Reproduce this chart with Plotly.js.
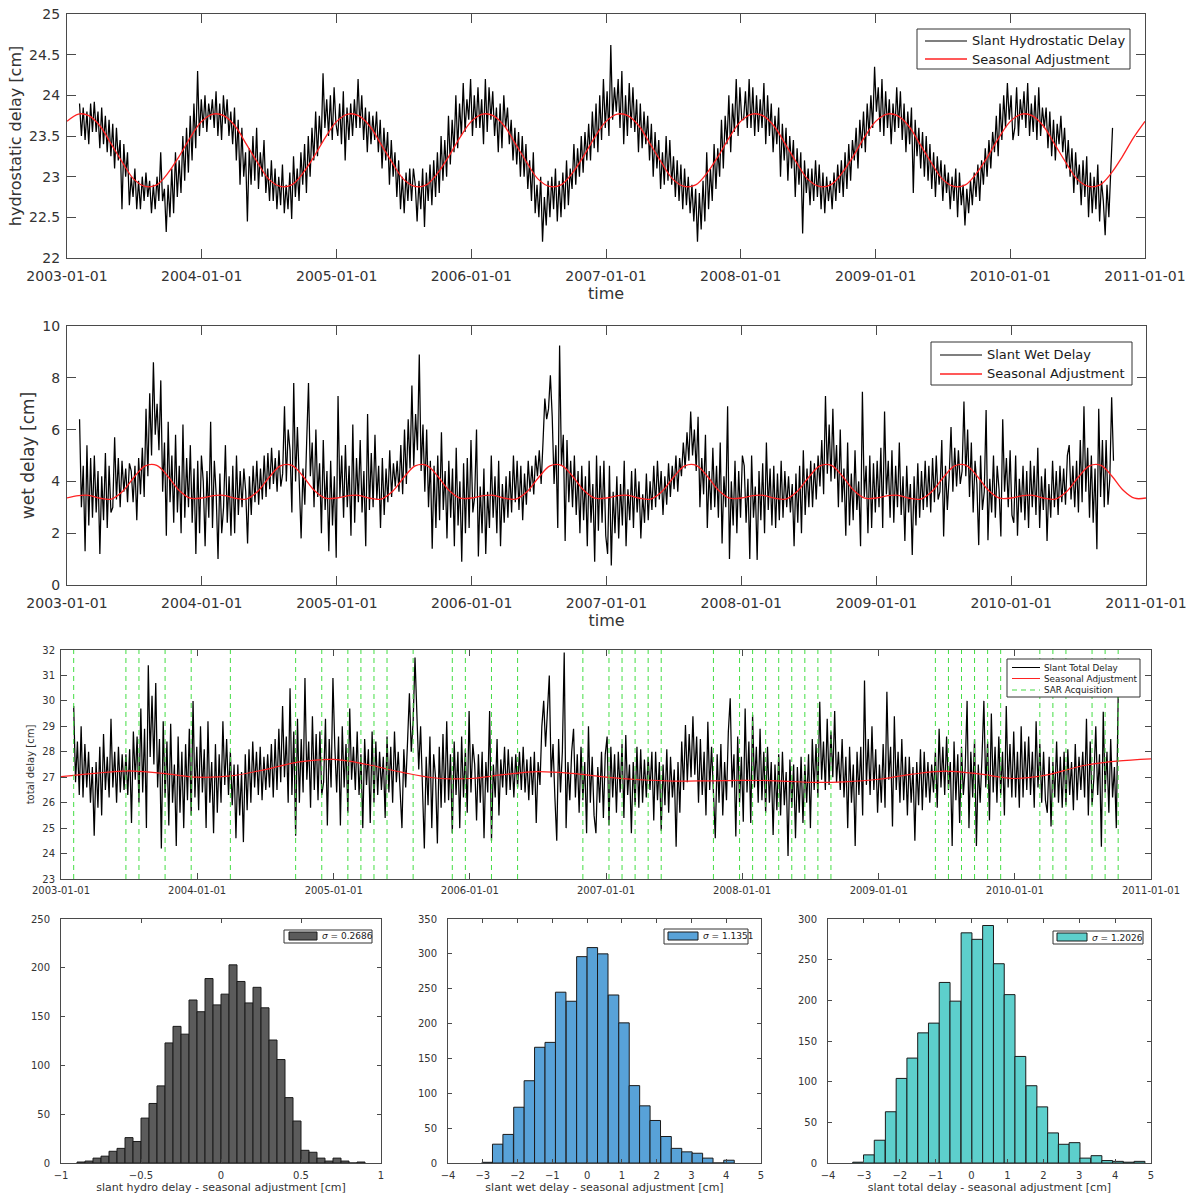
<!DOCTYPE html>
<html>
<head>
<meta charset="utf-8">
<script src="https://cdn.plot.ly/plotly-3.0.1.min.js"></script>
<style>
  html, body { margin: 0; padding: 0; background: #ffffff; }
  #chart { width: 1196px; height: 1195px; }
</style>
</head>
<body>
<div id="chart"></div>
<script>
// ---- slant delay series, one sample every 5 days from 2003-02-04 ----
const seriesStart = '2003-02-04';
const seriesStepDays = 5;

const hydroDelay = [
  // 2003
  23.9, 23.5, 23.85, 23.45, 23.8, 23.4, 23.9, 23.55, 23.92, 23.55, 23.8, 23.35, 23.85, 23.4, 23.75, 23.3,
  23.7, 23.25, 23.65, 23.1, 23.6, 23.2, 23.45, 22.6, 23.4, 23.0, 23.3, 22.65, 23.0, 22.75, 23.1, 22.6,
  22.95, 22.6, 23.0, 22.7, 23.05, 22.75, 22.95, 22.55, 22.9, 22.6, 23.0, 22.7, 23.3, 22.7, 22.85, 22.32,
  22.9, 22.5, 23.1, 22.55, 23.3, 22.75, 23.2, 22.8, 23.5, 22.95, 23.6, 23.05, 23.75, 23.2, 23.9, 23.35,
  24.3, 23.5, 23.95, 23.6,
  // 2004
  24.0, 23.55, 23.9, 23.7, 23.95, 23.6, 24.05, 23.5, 23.9, 23.45, 24.0, 23.65, 23.95, 23.5, 23.8, 23.4,
  23.85, 23.2, 23.7, 22.9, 23.6, 23.0, 23.3, 22.45, 23.35, 22.9, 23.5, 22.95, 23.6, 22.85, 23.3, 23.0,
  23.45, 22.8, 23.1, 22.7, 23.2, 22.7, 23.1, 22.6, 23.0, 22.65, 23.15, 22.55, 22.9, 22.6, 23.05, 22.48,
  23.25, 22.75, 23.1, 22.7, 23.3, 22.9, 23.4, 22.8, 23.5, 23.0, 23.6, 23.2, 23.8, 23.25, 23.75, 23.4,
  24.27, 23.6, 23.95, 23.5, 24.0, 23.45, 24.1, 23.65,
  // 2005
  23.5, 23.9, 23.4, 24.05, 23.2, 23.85, 23.45, 23.9, 23.5, 23.95, 23.6, 24.2, 23.6, 24.0, 23.45, 23.85,
  23.3, 23.8, 23.4, 23.75, 23.45, 23.8, 23.3, 23.7, 23.1, 23.6, 23.2, 23.55, 22.9, 23.45, 23.0, 23.3,
  22.75, 23.2, 22.6, 23.0, 22.55, 23.05, 22.7, 23.1, 22.7, 23.1, 22.9, 22.45, 22.95, 22.6, 23.1, 22.38,
  23.05, 22.7, 23.15, 22.65, 23.2, 22.75, 23.3, 22.8, 23.5, 22.95, 23.45, 23.0, 23.75, 23.15, 23.7, 23.3,
  24.0, 23.35, 23.9, 23.5, 24.15, 23.55, 23.95, 23.7, 24.2, 23.5, 24.0, 23.6,
  // 2006
  24.1, 23.6, 23.95, 23.4, 24.2, 23.55, 24.1, 23.7, 24.05, 23.5, 23.85, 23.3, 23.9, 23.35, 24.0, 23.6,
  23.85, 23.4, 23.7, 23.2, 23.6, 23.15, 23.55, 23.0, 23.5, 23.0, 23.4, 22.85, 23.2, 22.7, 23.3, 22.55,
  22.9, 22.5, 23.0, 22.2, 22.75, 22.4, 22.95, 22.5, 23.0, 22.6, 23.1, 22.45, 22.95, 22.5, 23.05, 22.6,
  23.2, 22.65, 23.1, 22.85, 23.4, 22.9, 23.35, 23.0, 23.5, 23.05, 23.55, 23.2, 23.65, 23.2, 23.8, 23.35,
  23.9, 23.3, 24.0, 23.45, 24.2, 23.6, 24.05, 23.5,
  // 2007
  24.62, 23.7, 24.1, 23.8, 24.2, 23.6, 24.3, 23.4, 24.0, 23.5, 24.15, 23.6, 24.1, 23.55, 23.95, 23.3,
  23.9, 23.35, 23.8, 23.4, 23.75, 23.2, 23.65, 23.0, 23.55, 23.1, 23.45, 22.85, 23.3, 22.9, 23.5, 22.95,
  23.45, 22.9, 23.25, 22.75, 23.2, 22.7, 23.15, 22.6, 23.1, 22.65, 23.0, 22.55, 22.9, 22.45, 22.85, 22.2,
  22.8, 22.35, 22.95, 22.45, 23.3, 22.6, 23.1, 22.7, 23.4, 22.85, 23.35, 23.0, 23.7, 23.1, 23.75, 23.4,
  24.0, 23.3, 23.9, 23.55, 24.2, 23.5, 24.1, 23.7,
  // 2008
  23.7, 24.05, 23.6, 24.2, 23.6, 24.1, 23.5, 24.0, 23.55, 23.95, 23.6, 24.15, 23.4, 24.0, 23.5, 23.9,
  23.3, 23.75, 23.4, 23.85, 23.0, 23.65, 23.2, 23.6, 22.95, 23.5, 23.1, 23.45, 22.75, 23.35, 22.9, 23.3,
  22.3, 23.2, 22.8, 23.1, 22.65, 23.1, 22.7, 23.2, 22.75, 23.15, 22.6, 23.05, 22.55, 23.0, 22.7, 22.95,
  22.6, 23.05, 22.7, 23.15, 22.8, 23.2, 22.75, 23.3, 22.85, 23.4, 22.95, 23.45, 23.2, 23.6, 23.1, 23.7,
  23.35, 23.8, 23.3, 23.9, 23.5, 24.0, 23.6, 24.35,
  // 2009
  23.8, 24.1, 23.55, 24.2, 23.5, 24.05, 23.6, 23.95, 23.4, 23.9, 23.55, 24.1, 23.6, 24.05, 23.45, 23.9,
  23.3, 23.8, 23.4, 23.85, 22.8, 23.7, 23.25, 23.6, 23.1, 23.55, 23.0, 23.5, 22.95, 23.4, 22.85, 23.3,
  22.75, 23.25, 22.9, 23.2, 22.7, 23.15, 22.8, 23.05, 22.6, 23.0, 22.7, 23.1, 22.5, 23.05, 22.65, 22.9,
  22.4, 22.85, 22.55, 22.95, 22.65, 23.05, 22.75, 23.15, 22.7, 23.2, 22.9, 23.35, 23.0, 23.45, 23.1, 23.55,
  23.3, 23.75, 23.25, 23.9, 23.45, 24.0, 23.6, 24.15, 23.7, 24.0, 23.45, 23.6,
  // 2010
  24.1, 23.5, 23.95, 23.7, 24.05, 23.6, 24.15, 23.5, 23.9, 23.55, 24.0, 23.45, 24.1, 23.5, 23.85, 23.6,
  23.85, 23.35, 23.8, 23.25, 23.7, 23.2, 23.65, 23.4, 23.75, 23.3, 23.6, 23.1, 23.45, 23.0, 23.35, 22.8,
  23.3, 22.9, 23.15, 22.65, 23.2, 22.75, 23.25, 22.5, 23.05, 22.55, 23.0, 22.6, 23.15, 22.45, 22.95, 22.7,
  22.28, 22.9, 22.5, 23.1, 23.6
];

const wetDelay = [
  // 2003
  6.4, 3.0, 4.6, 1.3, 5.4, 2.3, 4.9, 2.6, 5.0, 2.8, 4.4, 1.2, 4.2, 2.5, 5.1, 2.2, 4.6, 2.8, 3.0, 5.7,
  3.3, 4.9, 3.0, 4.8, 3.6, 4.5, 3.2, 4.7, 4.4, 3.2, 4.6, 2.5, 4.9, 3.5, 5.3, 3.4, 6.8, 4.2, 7.4, 5.0,
  8.6, 5.8, 7.0, 5.2, 7.9, 3.6, 5.5, 1.9, 6.3, 3.2, 5.0, 2.4, 5.8, 2.8, 4.6, 2.0, 6.2, 2.6, 4.9, 3.0,
  5.4, 2.4, 4.5, 1.2, 4.8, 2.0, 5.0, 4.0,
  // 2004
  1.5, 4.4, 2.6, 6.3, 2.2, 4.8, 3.5, 1.0, 4.3, 2.0, 3.0, 5.4, 2.4, 4.2, 1.9, 4.6, 2.0, 5.0, 2.7, 4.4,
  3.0, 4.5, 3.6, 1.6, 4.2, 2.7, 4.6, 3.2, 4.8, 3.1, 4.5, 3.3, 5.0, 3.4, 5.1, 3.7, 5.3, 3.9, 4.9, 3.6,
  5.2, 3.8, 4.3, 6.9, 4.0, 6.0, 5.2, 2.8, 7.8, 4.0, 6.1, 3.5, 1.8, 4.5, 3.1, 5.5, 7.8, 4.2, 5.5, 3.0,
  6.0, 3.4, 4.7, 2.0, 5.6, 2.9, 4.4, 1.3, 4.8, 2.3, 4.2, 1.05,
  // 2005
  7.3, 3.4, 5.0, 2.6, 5.4, 3.0, 4.6, 1.9, 6.2, 2.4, 4.9, 3.2, 5.6, 2.8, 4.4, 1.5, 6.6, 2.9, 5.1, 3.0,
  5.8, 3.3, 4.6, 2.2, 4.9, 2.7, 4.5, 3.2, 5.2, 3.4, 4.7, 3.8, 4.8, 3.6, 5.4, 3.5, 6.0, 3.9, 6.4, 4.5,
  7.7, 4.6, 6.6, 5.2, 8.9, 4.4, 6.2, 3.6, 6.0, 3.0, 4.8, 1.4, 4.6, 2.2, 5.0, 2.5, 5.9, 2.9, 4.4, 1.8,
  4.8, 2.6, 4.5, 1.5, 5.3, 2.3, 4.0, 0.9, 4.7, 2.0, 4.9, 2.2, 5.6, 2.8, 3.4, 6.0,
  // 2006
  1.1, 3.8, 2.0, 4.5, 1.2, 3.6, 2.2, 5.0, 2.6, 4.2, 2.0, 4.8, 1.5, 3.9, 2.4, 4.2, 2.6, 4.4, 2.8, 5.0,
  3.2, 4.8, 2.9, 4.6, 2.5, 4.3, 3.1, 4.8, 3.6, 4.6, 3.5, 5.0, 4.2, 5.2, 3.9, 5.5, 7.2, 6.4, 6.8, 8.1,
  6.5, 3.9, 5.4, 2.2, 9.25, 4.6, 5.8, 1.7, 5.6, 3.2, 4.8, 3.0, 5.0, 2.7, 4.4, 2.0, 4.6, 2.5, 4.2, 1.5,
  4.8, 2.4, 3.9, 0.9, 5.0, 2.1, 4.6, 2.4, 4.8, 1.9, 1.2, 4.6,
  // 2007
  0.75, 3.6, 2.0, 4.2, 1.8, 3.9, 2.3, 4.8, 1.5, 3.7, 2.5, 4.4, 2.2, 4.5, 2.8, 4.0, 1.8, 3.5, 2.4, 4.3,
  2.5, 4.0, 2.9, 4.6, 3.0, 4.8, 3.3, 4.4, 2.7, 4.2, 3.1, 4.7, 3.4, 4.6, 3.7, 5.0, 3.6, 4.9, 4.2, 5.5,
  4.5, 5.9, 4.8, 6.7, 5.0, 6.0, 4.4, 6.5, 3.0, 4.9, 3.5, 5.8, 2.2, 4.4, 2.9, 5.3, 3.0, 4.6, 2.6, 5.5,
  1.6, 4.2, 3.0, 6.9, 1.0, 4.0, 2.3, 4.8, 2.0, 4.4, 2.6, 5.0,
  // 2008
  4.6, 2.4, 4.1, 1.0, 5.0, 2.6, 3.8, 0.97, 4.4, 2.5, 4.7, 2.0, 5.5, 2.9, 4.5, 2.3, 4.6, 2.2, 4.3, 2.5,
  4.8, 2.6, 4.4, 3.0, 4.2, 2.8, 3.9, 1.5, 4.3, 2.4, 4.6, 2.0, 5.2, 2.7, 4.5, 3.0, 4.8, 3.0, 4.7, 3.3,
  5.0, 3.8, 5.6, 3.5, 7.3, 4.3, 6.2, 4.0, 6.8, 4.1, 5.4, 3.0, 6.0, 3.2, 4.5, 1.9, 5.5, 2.3, 4.3, 2.5,
  5.2, 2.9, 4.0, 1.5, 7.46, 3.4, 4.6, 2.0, 5.0, 2.2, 4.7, 2.8,
  // 2009
  4.8, 3.0, 5.3, 2.2, 6.7, 3.5, 4.8, 2.6, 5.2, 2.4, 4.6, 3.0, 5.5, 2.7, 4.2, 1.7, 4.6, 2.8, 3.9, 1.16,
  4.2, 2.3, 4.7, 2.6, 4.4, 2.9, 4.8, 3.0, 4.6, 2.8, 4.9, 3.2, 5.0, 3.3, 3.6, 5.6, 1.87, 4.6, 2.9, 4.2,
  6.1, 3.6, 5.3, 3.8, 5.2, 3.9, 4.4, 7.08, 4.2, 6.0, 3.4, 5.5, 2.8, 4.8, 3.9, 1.54, 5.0, 2.9, 3.6, 6.76,
  1.73, 4.1, 2.8, 5.0, 2.6, 4.6, 3.7, 1.87, 6.4, 3.6, 4.9, 3.0, 5.2, 2.7, 2.4, 5.0,
  // 2010
  1.9, 4.1, 2.8, 4.6, 2.5, 4.4, 2.2, 4.8, 3.0, 4.6, 2.7, 5.3, 2.2, 4.2, 2.9, 4.5, 1.7, 3.9, 2.6, 4.8,
  3.0, 4.4, 2.7, 4.6, 3.2, 4.5, 3.1, 5.0, 5.4, 3.3, 4.6, 3.0, 4.8, 2.8, 5.6, 3.2, 6.9, 3.6, 5.3, 2.6,
  5.0, 2.4, 4.5, 1.38, 6.8, 3.4, 5.6, 3.0, 5.6, 3.1, 4.1, 7.25, 4.8
];

const totalDelay = [
  // 2003
  29.8, 26.8, 28.4, 26.3, 29.0, 26.2, 28.3, 26.6, 28.0, 26.0, 27.4, 24.7, 27.6, 25.8, 28.2, 25.5,
  28.7, 26.5, 27.8, 26.2, 29.3, 26.6, 28.0, 26.0, 28.2, 26.4, 27.9, 26.5, 27.9, 26.3, 28.1, 25.2,
  28.8, 26.9, 28.6, 26.0, 29.7, 26.4, 28.9, 25.0, 31.4, 27.8, 30.2, 27.5, 30.7, 26.6, 28.5, 24.2,
  29.2, 26.2, 28.4, 25.1, 29.1, 26.0, 27.5, 24.3, 28.6, 25.6, 28.0, 25.0, 28.3, 26.1, 28.9, 25.5,
  30.0, 26.2, 28.2, 25.7,
  // 2004
  29.0, 26.4, 28.1, 25.0, 29.2, 26.0, 27.6, 24.8, 28.3, 25.6, 27.9, 26.0, 29.2, 26.7, 28.5, 26.3,
  28.0, 25.9, 27.5, 24.6, 27.5, 25.5, 27.2, 24.45, 27.9, 25.7, 28.1, 26.0, 28.4, 26.6, 28.0, 26.3,
  28.2, 26.1, 27.8, 26.5, 27.9, 26.6, 28.3, 26.2, 28.5, 26.5, 28.9, 26.8, 29.8, 27.0, 28.6, 26.0,
  30.5, 26.3, 28.8, 24.7, 29.3, 26.0, 28.5, 26.4, 30.9, 26.9, 28.4, 25.8, 29.4, 26.5, 28.7, 26.1,
  28.8, 26.3, 26.8, 29.3, 25.1, 28.5, 26.6, 30.9,
  // 2005
  28.2, 26.4, 28.6, 25.1, 29.0, 26.6, 28.3, 25.6, 29.7, 26.9, 28.2, 26.5, 28.8, 26.3, 27.9, 25.0,
  28.5, 26.7, 28.1, 25.2, 28.8, 26.0, 28.4, 26.3, 28.0, 26.5, 27.8, 25.4, 28.6, 26.4, 28.2, 26.0,
  28.8, 26.8, 28.0, 26.2, 25.0, 28.1, 26.6, 28.4, 30.3, 28.0, 29.2, 31.7, 29.7, 27.3, 29.0, 26.5,
  24.2, 27.8, 25.9, 28.6, 25.0, 27.9, 27.0, 24.4, 28.2, 25.8, 28.7, 26.0, 29.2, 26.1, 27.9, 24.8,
  28.4, 26.3, 28.0, 25.0, 28.6, 26.2, 28.1, 25.6, 29.6, 26.4, 28.3, 27.5,
  // 2006
  25.3, 27.9, 26.0, 28.0, 24.6, 27.6, 26.4, 29.6, 24.5, 27.5, 26.2, 28.5, 25.5, 27.7, 26.6, 28.2,
  26.3, 28.1, 26.5, 27.8, 26.2, 27.9, 26.6, 28.0, 26.5, 28.2, 26.4, 27.7, 26.1, 27.8, 26.3, 28.0,
  25.2, 27.6, 26.7, 29.0, 30.0, 28.2, 29.4, 31.0, 27.0, 28.3, 26.2, 24.5, 28.5, 26.4, 28.0, 31.9,
  25.0, 27.6, 26.1, 28.0, 28.9, 26.2, 27.9, 25.6, 28.2, 26.1, 27.6, 24.8, 29.0, 26.0, 27.8, 25.5,
  24.8, 27.4, 26.0, 28.0, 25.4, 27.9, 28.6, 25.1,
  // 2007
  28.2, 26.2, 27.9, 25.6, 28.0, 26.4, 28.3, 25.4, 28.66, 26.3, 27.5, 24.8, 27.6, 25.9, 28.2, 25.8,
  28.1, 26.0, 27.7, 26.2, 27.8, 26.5, 28.0, 25.3, 28.0, 26.1, 27.6, 24.9, 27.5, 25.9, 28.1, 25.6,
  27.8, 26.2, 27.3, 24.27, 27.6, 25.6, 28.4, 26.5, 29.05, 26.8, 28.7, 27.0, 29.4, 27.1, 28.6, 26.0,
  28.5, 26.3, 28.0, 25.5, 29.18, 26.5, 28.2, 26.2, 24.6, 27.9, 26.0, 28.3, 25.5, 27.6, 26.1, 28.8,
  30.1, 26.6, 27.9, 24.67, 28.6, 26.0, 27.8, 25.25,
  // 2008
  29.7, 26.4, 28.4, 25.2, 29.45, 26.6, 28.2, 26.0, 28.9, 26.1, 28.0, 25.6, 28.2, 26.0, 27.6, 24.73,
  27.5, 25.7, 27.9, 25.5, 28.0, 25.9, 27.2, 23.9, 27.7, 25.8, 27.5, 24.6, 27.4, 25.6, 27.8, 25.2,
  27.5, 26.0, 27.9, 25.0, 28.5, 26.5, 28.3, 26.2, 29.97, 26.9, 28.4, 26.5, 29.3, 26.7, 28.8, 27.0,
  29.6, 26.8, 28.0, 26.5, 28.5, 26.2, 27.8, 25.0, 28.2, 26.0, 27.5, 24.3, 28.0, 26.3, 28.2, 25.5,
  30.8, 26.7, 28.5, 26.3, 29.0, 26.5, 28.1, 25.6,
  // 2009
  27.5, 26.0, 28.3, 25.8, 30.36, 26.9, 28.2, 25.06, 29.4, 26.5, 28.0, 26.0, 28.5, 26.1, 27.8, 25.5,
  27.8, 26.0, 27.4, 24.5, 27.6, 25.9, 28.1, 25.7, 28.0, 26.2, 27.6, 26.0, 27.5, 26.4, 28.0, 25.8,
  28.9, 26.6, 28.2, 26.3, 28.6, 26.5, 27.6, 24.3, 28.4, 26.1, 27.9, 25.2, 28.2, 26.3, 27.4, 30.0,
  25.0, 28.0, 26.2, 28.5, 24.3, 27.5, 26.0, 27.8, 30.0, 26.6, 28.4, 25.3, 29.5, 26.4, 28.2, 26.0,
  28.6, 26.3, 28.0, 25.5, 29.8, 26.6, 28.3, 26.2, 28.8, 26.2, 28.0, 25.8,
  // 2010
  29.0, 26.2, 28.4, 26.5, 28.6, 26.3, 28.0, 25.8, 29.2, 26.6, 28.3, 26.0, 28.0, 26.1, 25.6, 27.8,
  25.06, 27.6, 26.2, 28.4, 26.0, 27.8, 25.8, 28.0, 25.9, 28.1, 26.3, 27.6, 25.7, 28.3, 26.1, 27.8,
  26.5, 28.0, 26.2, 29.3, 25.5, 28.4, 25.9, 27.0, 29.0, 26.3, 27.9, 24.27, 29.57, 26.4, 28.0, 25.6,
  28.5, 26.2, 27.4, 25.0, 30.2
];

// ---- seasonal adjustment curves ----
// monthly values, 2003-01-01 .. 2011-01-01
const hydroSeasonal = [
  23.68, 23.77, 23.75, 23.62, 23.40, 23.17, 22.97, 22.88, 22.90, 23.04, 23.25, 23.48,
  23.68, 23.77, 23.75, 23.62, 23.40, 23.17, 22.97, 22.88, 22.90, 23.04, 23.25, 23.48,
  23.68, 23.77, 23.75, 23.62, 23.40, 23.17, 22.97, 22.88, 22.90, 23.04, 23.25, 23.48,
  23.68, 23.77, 23.75, 23.62, 23.40, 23.17, 22.97, 22.88, 22.90, 23.04, 23.25, 23.48,
  23.68, 23.77, 23.75, 23.62, 23.40, 23.17, 22.97, 22.88, 22.90, 23.04, 23.25, 23.48,
  23.68, 23.77, 23.75, 23.62, 23.40, 23.17, 22.97, 22.88, 22.90, 23.04, 23.25, 23.48,
  23.68, 23.77, 23.75, 23.62, 23.40, 23.17, 22.97, 22.88, 22.90, 23.04, 23.25, 23.48,
  23.68, 23.77, 23.75, 23.62, 23.40, 23.17, 22.97, 22.88, 22.90, 23.04, 23.25, 23.48,
  23.68
];
const wetSeasonal = [
  3.36, 3.45, 3.46, 3.35, 3.32, 3.62, 4.15, 4.60, 4.62, 4.20, 3.65, 3.35,
  3.36, 3.45, 3.46, 3.35, 3.32, 3.62, 4.15, 4.60, 4.62, 4.20, 3.65, 3.35,
  3.36, 3.45, 3.46, 3.35, 3.32, 3.62, 4.15, 4.60, 4.62, 4.20, 3.65, 3.35,
  3.36, 3.45, 3.46, 3.35, 3.32, 3.62, 4.15, 4.60, 4.62, 4.20, 3.65, 3.35,
  3.36, 3.45, 3.46, 3.35, 3.32, 3.62, 4.15, 4.60, 4.62, 4.20, 3.65, 3.35,
  3.36, 3.45, 3.46, 3.35, 3.32, 3.62, 4.15, 4.60, 4.62, 4.20, 3.65, 3.35,
  3.36, 3.45, 3.46, 3.35, 3.32, 3.62, 4.15, 4.60, 4.62, 4.20, 3.65, 3.35,
  3.36, 3.45, 3.46, 3.35, 3.32, 3.62, 4.15, 4.60, 4.62, 4.20, 3.65, 3.35,
  3.36
];
// quarterly values, 2003-01-01 .. 2011-01-01
const totalSeasonal = [
  27.02, 27.15, 27.25, 27.15, 27.00, 27.05, 27.30, 27.60, 27.70, 27.50, 27.20, 26.97,
  26.95, 27.10, 27.22, 27.15, 27.00, 26.90, 26.85, 26.86, 26.88, 26.86, 26.80, 26.82,
  26.92, 27.12, 27.24, 27.12, 26.95, 27.10, 27.45, 27.63, 27.72
];

// ---- SAR acquisition dates ----
const sarDates = [
  '2003-02-04', '2003-06-24', '2003-07-29', '2003-10-07', '2003-12-16', '2004-03-30', '2004-09-21',
  '2004-11-30', '2005-02-08', '2005-03-15', '2005-04-19', '2005-05-24', '2005-08-02', '2005-11-15',
  '2005-12-20', '2006-02-28', '2006-05-09', '2006-10-31', '2007-01-09', '2007-02-13', '2007-03-20',
  '2007-04-24', '2007-05-29', '2007-10-16', '2007-12-25', '2008-01-29', '2008-03-04', '2008-04-08',
  '2008-05-13', '2008-06-17', '2008-07-22', '2008-08-26', '2009-06-02', '2009-07-07', '2009-08-11',
  '2009-09-15', '2009-10-20', '2009-11-24', '2010-03-09', '2010-04-13', '2010-05-18', '2010-07-27',
  '2010-08-31', '2010-10-05'
];

// ---- residual histograms (bin centres, counts) ----
const hydroBinWidth = 0.05;
const hydroBins = [
  -0.875, -0.825, -0.775, -0.725, -0.675, -0.625, -0.575, -0.525, -0.475, -0.425, -0.375, -0.325,
  -0.275, -0.225, -0.175, -0.125, -0.075, -0.025, 0.025, 0.075, 0.125, 0.175, 0.225, 0.275,
  0.325, 0.375, 0.425, 0.475, 0.525, 0.575, 0.625, 0.675, 0.725, 0.775, 0.825, 0.875
];
const hydroCounts = [
  1, 2, 5, 7, 12, 15, 26, 22, 46, 61, 79, 123, 140, 132, 167, 155, 189, 162,
  173, 203, 186, 164, 180, 159, 126, 106, 67, 43, 13, 11, 5, 2, 5, 2, 0, 1
];

const wetBinWidth = 0.302;
const wetBins = [
  -2.87, -2.57, -2.27, -1.96, -1.66, -1.36, -1.06, -0.76, -0.45, -0.15, 0.15, 0.45,
  0.76, 1.06, 1.36, 1.66, 1.96, 2.27, 2.57, 2.87, 3.17, 3.47, 3.78, 4.08
];
const wetCounts = [
  1, 27, 41, 80, 118, 166, 173, 245, 232, 296, 309, 300,
  241, 201, 111, 82, 61, 38, 21, 16, 14, 7, 0, 4
];

const totalBinWidth = 0.3016;
const totalBins = [
  -3.16, -2.86, -2.56, -2.25, -1.95, -1.65, -1.35, -1.05, -0.75, -0.45, -0.14, 0.16, 0.46, 0.76,
  1.06, 1.36, 1.67, 1.97, 2.27, 2.57, 2.87, 3.17, 3.48, 3.78, 4.08, 4.38, 4.68
];
const totalCounts = [
  1, 10, 28, 63, 104, 129, 160, 172, 222, 199, 283, 275, 292, 245,
  207, 131, 95, 69, 37, 23, 25, 6, 9, 3, 2, 1, 2
];

const sigmaLabels = ['0.2686', '1.1351', '1.2026'];

// ---- helpers ----
function stepDates(start, stepDays, n) {
  const t0 = Date.parse(start + 'T00:00:00Z');
  const out = [];
  for (let i = 0; i < n; i++) {
    out.push(new Date(t0 + i * stepDays * 86400000).toISOString().slice(0, 10));
  }
  return out;
}
function monthSteps(startYear, stepMonths, n) {
  const out = [];
  for (let i = 0; i < n; i++) {
    const m = i * stepMonths;
    const y = startYear + Math.floor(m / 12);
    out.push(y + '-' + String((m % 12) + 1).padStart(2, '0') + '-01');
  }
  return out;
}
function verticals(dates, lo, hi) {
  const xs = [], ys = [];
  dates.forEach(d => { xs.push(d, d, null); ys.push(lo, hi, null); });
  return { xs, ys };
}

const W = 1196, H = 1195;
const fx = v => v / W;
const fy = v => 1 - v / H;

const FONT = 'DejaVu Sans, Liberation Sans, sans-serif';
const AXIS = '#4a4a4a';
const TEXT = '#333333';
const BLACK = '#000000';
const RED = '#ff2222';
const GREEN = '#44dd44';
const SERIES_W = 1.25;

const seriesDates = stepDates(seriesStart, seriesStepDays, hydroDelay.length);
const monthlyDates = monthSteps(2003, 1, hydroSeasonal.length);
const quarterlyDates = monthSteps(2003, 3, totalSeasonal.length);
const sar = verticals(sarDates, 23, 32);

// ---- traces ----
const traces = [
  { x: seriesDates, y: hydroDelay, xaxis: 'x', yaxis: 'y', type: 'scatter', mode: 'lines',
    name: 'Slant Hydrostatic Delay', line: { color: BLACK, width: SERIES_W } },
  { x: monthlyDates, y: hydroSeasonal, xaxis: 'x', yaxis: 'y', type: 'scatter', mode: 'lines',
    name: 'Seasonal Adjustment', line: { color: RED, width: 1.3, shape: 'spline' } },

  { x: seriesDates, y: wetDelay, xaxis: 'x2', yaxis: 'y2', type: 'scatter', mode: 'lines',
    name: 'Slant Wet Delay', line: { color: BLACK, width: SERIES_W } },
  { x: monthlyDates, y: wetSeasonal, xaxis: 'x2', yaxis: 'y2', type: 'scatter', mode: 'lines',
    name: 'Seasonal Adjustment', line: { color: RED, width: 1.3, shape: 'spline' } },

  { x: seriesDates, y: totalDelay, xaxis: 'x3', yaxis: 'y3', type: 'scatter', mode: 'lines',
    name: 'Slant Total Delay', line: { color: BLACK, width: SERIES_W } },
  { x: quarterlyDates, y: totalSeasonal, xaxis: 'x3', yaxis: 'y3', type: 'scatter', mode: 'lines',
    name: 'Seasonal Adjustment', line: { color: RED, width: 1.2, shape: 'spline' } },
  { x: sar.xs, y: sar.ys, xaxis: 'x3', yaxis: 'y3', type: 'scatter', mode: 'lines',
    name: 'SAR Acquisition', connectgaps: false, line: { color: GREEN, width: 1, dash: '5px,4px' } },

  { x: hydroBins, y: hydroCounts, width: hydroBinWidth, xaxis: 'x4', yaxis: 'y4', type: 'bar',
    marker: { color: '#5b5b5b', line: { color: '#1a1a1a', width: 1 } } },
  { x: wetBins, y: wetCounts, width: wetBinWidth, xaxis: 'x5', yaxis: 'y5', type: 'bar',
    marker: { color: '#58a2d8', line: { color: '#1a1a1a', width: 1 } } },
  { x: totalBins, y: totalCounts, width: totalBinWidth, xaxis: 'x6', yaxis: 'y6', type: 'bar',
    marker: { color: '#5dcfcc', line: { color: '#1a1a1a', width: 1 } } }
];

// ---- axes ----
function frame(extra) {
  return Object.assign({
    showline: true, linecolor: AXIS, linewidth: 1, mirror: 'ticks',
    ticks: 'inside', tickcolor: AXIS, tickwidth: 1,
    showgrid: false, zeroline: false, fixedrange: true,
    tickfont: { family: FONT, size: 14, color: TEXT }
  }, extra);
}
function timeAxis(extra) {
  return frame(Object.assign({
    type: 'date', range: ['2003-01-01', '2011-01-01'],
    tick0: '2003-01-01', dtick: 'M12', tickformat: '%Y-%m-%d'
  }, extra));
}
const small = { family: FONT, size: 10, color: TEXT };

const layout = {
  width: W, height: H,
  margin: { l: 0, r: 0, t: 0, b: 0, pad: 0 },
  paper_bgcolor: '#ffffff', plot_bgcolor: '#ffffff',
  font: { family: FONT, color: TEXT },
  showlegend: false,
  bargap: 0,

  xaxis: timeAxis({ domain: [fx(67), fx(1145)], anchor: 'y', ticklen: 9, ticklabelstandoff: 5,
    title: { text: 'time', font: { size: 16, color: TEXT }, standoff: 2 } }),
  yaxis: frame({ domain: [fy(258), fy(14)], anchor: 'x', range: [22, 25], dtick: 0.5, ticklen: 9,
    ticklabelstandoff: 3,
    title: { text: 'hydrostatic delay [cm]', font: { size: 16, color: TEXT }, standoff: 3 } }),

  xaxis2: timeAxis({ domain: [fx(67), fx(1146)], anchor: 'y2', ticklen: 9, ticklabelstandoff: 5,
    title: { text: 'time', font: { size: 16, color: TEXT }, standoff: 2 } }),
  yaxis2: frame({ domain: [fy(585), fy(326)], anchor: 'x2', range: [0, 10], dtick: 2, ticklen: 9,
    ticklabelstandoff: 3,
    title: { text: 'wet delay [cm]', font: { size: 17, color: TEXT }, standoff: 3 } }),

  xaxis3: timeAxis({ domain: [fx(61), fx(1151)], anchor: 'y3', ticklen: 6, ticklabelstandoff: 2,
    tickfont: small }),
  yaxis3: frame({ domain: [fy(879), fy(650)], anchor: 'x3', range: [23, 32], dtick: 1, ticklen: 6,
    ticklabelstandoff: 3, tickfont: small,
    title: { text: 'total delay [cm]', font: { size: 10, color: TEXT }, standoff: 5 } }),

  xaxis4: frame({ domain: [fx(61), fx(381)], anchor: 'y4', range: [-1, 1], dtick: 0.5, ticklen: 4,
    ticklabelstandoff: 3, tickfont: small,
    title: { text: 'slant hydro delay - seasonal adjustment [cm]', font: { size: 11, color: TEXT }, standoff: 3 } }),
  yaxis4: frame({ domain: [fy(1163), fy(919)], anchor: 'x4', range: [0, 250], dtick: 50, ticklen: 4,
    ticklabelstandoff: 8, tickfont: small }),

  xaxis5: frame({ domain: [fx(448), fx(761)], anchor: 'y5', range: [-4, 5], dtick: 1, ticklen: 4,
    ticklabelstandoff: 3, tickfont: small,
    title: { text: 'slant wet delay - seasonal adjustment [cm]', font: { size: 11, color: TEXT }, standoff: 3 } }),
  yaxis5: frame({ domain: [fy(1163), fy(919)], anchor: 'x5', range: [0, 350], dtick: 50, ticklen: 4,
    ticklabelstandoff: 8, tickfont: small }),

  xaxis6: frame({ domain: [fx(828), fx(1151)], anchor: 'y6', range: [-4, 5], dtick: 1, ticklen: 4,
    ticklabelstandoff: 3, tickfont: small,
    title: { text: 'slant total delay - seasonal adjustment [cm]', font: { size: 11, color: TEXT }, standoff: 3 } }),
  yaxis6: frame({ domain: [fy(1163), fy(919)], anchor: 'x6', range: [0, 300], dtick: 50, ticklen: 4,
    ticklabelstandoff: 8, tickfont: small }),

  shapes: [],
  annotations: []
};

// ---- keys drawn as framed boxes with line samples / swatches and labels ----
function addBox(b) {
  layout.shapes.push({ type: 'rect', xref: 'paper', yref: 'paper',
    x0: fx(b[0]), x1: fx(b[2]), y0: fy(b[3]), y1: fy(b[1]),
    line: { color: '#333333', width: 1 }, fillcolor: '#ffffff', layer: 'above' });
}
function addLabel(xLeft, yMid, text, size) {
  layout.annotations.push({ xref: 'paper', yref: 'paper', x: fx(xLeft), y: fy(yMid),
    xanchor: 'left', yanchor: 'middle', showarrow: false, text: text,
    font: { family: FONT, size: size, color: '#1a1a1a' } });
}
function lineKey(cfg) {
  addBox(cfg.box);
  cfg.rows.forEach((r, i) => {
    const y = cfg.rowY[i];
    layout.shapes.push({ type: 'line', xref: 'paper', yref: 'paper', layer: 'above',
      x0: fx(cfg.sample[0]), x1: fx(cfg.sample[1]), y0: fy(y), y1: fy(y),
      line: { color: r.color, width: r.width, dash: r.dash || 'solid' } });
    addLabel(cfg.textX, y, r.name, cfg.size);
  });
}

lineKey({ box: [917, 29, 1130, 69], sample: [925, 967], textX: 970, rowY: [41, 59], size: 13,
  rows: [{ name: traces[0].name, color: BLACK, width: 1.2 }, { name: traces[1].name, color: RED, width: 1.3 }] });
lineKey({ box: [931, 342, 1132, 385], sample: [940, 982], textX: 985, rowY: [355, 374], size: 13,
  rows: [{ name: traces[2].name, color: BLACK, width: 1.2 }, { name: traces[3].name, color: RED, width: 1.3 }] });
lineKey({ box: [1007, 659, 1140, 697], sample: [1012, 1040], textX: 1042, rowY: [667.5, 678.5, 690], size: 8.8,
  rows: [{ name: traces[4].name, color: BLACK, width: 1 }, { name: traces[5].name, color: RED, width: 1 },
         { name: traces[6].name, color: GREEN, width: 1, dash: '5px,4px' }] });

const histKeys = [
  { box: [284, 930, 372, 943], swatch: [289, 932, 317, 940], color: traces[7].marker.color, label: sigmaLabels[0] },
  { box: [664, 929, 748, 944], swatch: [668, 932, 698, 940], color: traces[8].marker.color, label: sigmaLabels[1] },
  { box: [1053, 931, 1143, 944], swatch: [1057, 933, 1087, 941], color: traces[9].marker.color, label: sigmaLabels[2] }
];
histKeys.forEach(k => {
  addBox(k.box);
  layout.shapes.push({ type: 'rect', xref: 'paper', yref: 'paper',
    x0: fx(k.swatch[0]), x1: fx(k.swatch[2]), y0: fy(k.swatch[3]), y1: fy(k.swatch[1]),
    line: { color: '#1a1a1a', width: 1 }, fillcolor: k.color, layer: 'above' });
  addLabel(k.swatch[2] + 3, (k.box[1] + k.box[3]) / 2, '<i>σ</i> = ' + k.label, 9);
});

Plotly.newPlot('chart', traces, layout, { staticPlot: true, displayModeBar: false });
</script>
</body>
</html>
